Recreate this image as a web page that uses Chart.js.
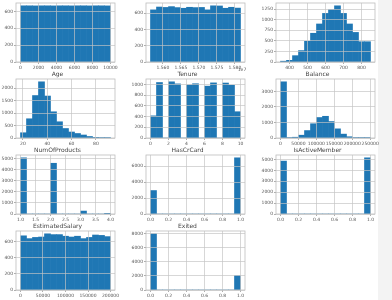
<!DOCTYPE html>
<html>
<head>
<meta charset="utf-8">
<script src="https://cdn.jsdelivr.net/npm/chart.js@4.4.1/dist/chart.umd.min.js"></script>
<style>
  html, body { margin: 0; padding: 0; background: #fff; }
  body { width: 392px; height: 300px; position: relative; overflow: hidden; }
  canvas { position: absolute; }
  #strip { position: absolute; left: 378px; top: 0; width: 14px; height: 300px; background: #f3f3f3; }
</style>
</head>
<body>
<div id="strip"></div>
<script>
// Histogram grid (df.hist, 15 bins) - counts

const titles = ['RowNumber', 'CustomerId', 'CreditScore', 'Age', 'Tenure', 'Balance',
    'NumOfProducts', 'HasCrCard', 'IsActiveMember', 'EstimatedSalary', 'Exited'];

// data ranges (first and last bin edge)
const rowNumberRange = [1, 10000];
const customerIdRange = [15565701, 15815690];
const creditScoreRange = [350, 850];
const ageRange = [18, 92];
const tenureRange = [0, 10];
const balanceRange = [0, 250898];
const numProductsRange = [1, 4];
const unitRange = [0, 1];
const salaryRange = [12, 199992];

// bin counts
const rowNumberCounts = [667, 667, 666, 667, 667, 666, 667, 667, 666, 667, 667, 666, 667, 667, 666];
const customerIdCounts = [640, 675, 670, 680, 668, 660, 672, 668, 670, 640, 690, 688, 660, 672, 662];
const creditScoreCounts = [19, 40, 150, 270, 490, 680, 900, 1150, 1240, 1330, 1150, 900, 700, 480, 480];
const ageCounts = [210, 770, 1700, 2250, 1680, 1050, 650, 380, 240, 180, 120, 60, 25, 8, 3];
const tenureCounts = [413, 1035, 0, 1048, 1009, 0, 989, 1012, 0, 967, 1028, 0, 1025, 984, 490];
const balanceCounts = [3623, 10, 50, 180, 480, 920, 1320, 1400, 1060, 590, 250, 80, 20, 5, 1];
const numProductsCounts = [5084, 0, 0, 0, 0, 4590, 0, 0, 0, 0, 266, 0, 0, 0, 60];
const hasCrCardCounts = [2945, 0, 0, 0, 0, 0, 0, 0, 0, 0, 0, 0, 0, 0, 7055];
const isActiveCounts = [4849, 0, 0, 0, 0, 0, 0, 0, 0, 0, 0, 0, 0, 0, 5151];
const salaryCounts = [675, 640, 655, 660, 700, 690, 690, 670, 660, 670, 640, 655, 685, 680, 665];
const exitedCounts = [7963, 0, 0, 0, 0, 0, 0, 0, 0, 0, 0, 0, 0, 0, 2037];

// x ticks and labels
const rowNumberX = [0, 2000, 4000, 6000, 8000, 10000];
const customerIdX = [15600000, 15650000, 15700000, 15750000, 15800000];
const customerIdXLabels = ['1.560', '1.565', '1.570', '1.575', '1.580'];
const creditScoreX = [400, 500, 600, 700, 800];
const ageX = [20, 40, 60, 80];
const tenureX = [0, 2, 4, 6, 8, 10];
const balanceX = [0, 50000, 100000, 150000, 200000, 250000];
const numProductsX = [1, 1.5, 2, 2.5, 3, 3.5, 4];
const numProductsXLabels = ['1.0', '1.5', '2.0', '2.5', '3.0', '3.5', '4.0'];
const unitX = [0, 0.2, 0.4, 0.6, 0.8, 1];
const unitXLabels = ['0.0', '0.2', '0.4', '0.6', '0.8', '1.0'];
const salaryX = [0, 50000, 100000, 150000, 200000];

// y ticks
const rowNumberY = [0, 200, 400, 600];
const customerIdY = [0, 200, 400, 600];
const creditScoreY = [0, 250, 500, 750, 1000, 1250];
const ageY = [0, 500, 1000, 1500, 2000];
const tenureY = [0, 200, 400, 600, 800, 1000];
const balanceY = [0, 1000, 2000, 3000];
const numProductsY = [0, 1000, 2000, 3000, 4000, 5000];
const hasCrCardY = [0, 2000, 4000, 6000];
const isActiveY = [0, 1000, 2000, 3000, 4000, 5000];
const salaryY = [0, 200, 400, 600];
const exitedY = [0, 2000, 4000, 6000, 8000];

const panels = [
    { range: rowNumberRange, counts: rowNumberCounts, xTicks: rowNumberX, yTicks: rowNumberY },
    { range: customerIdRange, counts: customerIdCounts, xTicks: customerIdX, xLabels: customerIdXLabels, yTicks: customerIdY, offsetText: '1e7' },
    { range: creditScoreRange, counts: creditScoreCounts, xTicks: creditScoreX, yTicks: creditScoreY },
    { range: ageRange, counts: ageCounts, xTicks: ageX, yTicks: ageY },
    { range: tenureRange, counts: tenureCounts, xTicks: tenureX, yTicks: tenureY },
    { range: balanceRange, counts: balanceCounts, xTicks: balanceX, yTicks: balanceY },
    { range: numProductsRange, counts: numProductsCounts, xTicks: numProductsX, xLabels: numProductsXLabels, yTicks: numProductsY },
    { range: unitRange, counts: hasCrCardCounts, xTicks: unitX, xLabels: unitXLabels, yTicks: hasCrCardY },
    { range: unitRange, counts: isActiveCounts, xTicks: unitX, xLabels: unitXLabels, yTicks: isActiveY },
    { range: salaryRange, counts: salaryCounts, xTicks: salaryX, yTicks: salaryY },
    { range: unitRange, counts: exitedCounts, xTicks: unitX, xLabels: unitXLabels, yTicks: exitedY }
];

// layout of the grid (plot areas)
const PLOT_LEFT = [16, 146, 276];
const PLOT_TOP = [3, 79, 155, 231];
const PLOT_W = 99, PLOT_H = 59;
const Y_W = 16, TITLE_H = 9, X_H = 10, PAD_R = 12;

const FONT = 'DejaVu Sans';
const BAR = '#1f77b4';
const GRID = 'rgba(196,196,196,0.85)';
const SPINE = '#bdbdbd';
const TEXT = '#555';

const framePlugin = {
    id: 'frame',
    afterDraw(chart) {
        const { ctx, chartArea: a } = chart;
        ctx.save();
        ctx.strokeStyle = SPINE;
        ctx.lineWidth = 0.8;
        ctx.strokeRect(a.left, a.top, a.right - a.left, a.bottom - a.top);
        const off = chart.options.plugins.frame && chart.options.plugins.frame.offsetText;
        if (off) {
            ctx.fillStyle = TEXT;
            ctx.font = '4.5px "' + FONT + '"';
            ctx.textAlign = 'center';
            ctx.textBaseline = 'middle';
            ctx.fillText(off, a.right - 3, a.bottom + 8);
        }
        ctx.restore();
    }
};

panels.forEach((p, i) => {
    const col = i % 3, row = Math.floor(i / 3);
    const canvas = document.createElement('canvas');
    canvas.width = Y_W + PLOT_W + PAD_R;
    canvas.height = TITLE_H + PLOT_H + X_H;
    canvas.style.left = (PLOT_LEFT[col] - Y_W) + 'px';
    canvas.style.top = (PLOT_TOP[row] - TITLE_H) + 'px';
    document.body.appendChild(canvas);

    const [lo, hi] = p.range;
    const n = p.counts.length;
    const w = (hi - lo) / n;
    const points = p.counts.map((c, k) => ({ x: lo + w * (k + 0.5), y: c }));
    const span = hi - lo;
    const yMax = Math.max(...p.counts) * 1.05;
    const tickFont = { family: FONT, size: 4.5 };

    new Chart(canvas, {
        type: 'bar',
        data: {
            datasets: [{
                data: points,
                backgroundColor: BAR,
                borderWidth: 0,
                barPercentage: 1,
                categoryPercentage: 1
            }]
        },
        options: {
            responsive: false,
            animation: false,
            events: [],
            layout: { padding: { left: 0, right: PAD_R, top: 0, bottom: 0 } },
            plugins: {
                legend: { display: false },
                tooltip: { enabled: false },
                title: {
                    display: true,
                    text: titles[i],
                    color: '#444',
                    font: { family: FONT, size: 6, lineHeight: 1, weight: 'normal' },
                    padding: { top: 1, bottom: 2 }
                },
                frame: { offsetText: p.offsetText }
            },
            scales: {
                x: {
                    type: 'linear',
                    offset: false,
                    min: lo - span * 0.05,
                    max: hi + span * 0.05,
                    grid: { z: 1, color: GRID, lineWidth: 0.8, offset: false, tickLength: 2, tickColor: '#999' },
                    border: { display: false },
                    ticks: {
                        font: tickFont, color: TEXT, padding: 1,
                        maxRotation: 0, minRotation: 0, autoSkip: false,
                        callback: (v, k) => p.xLabels ? p.xLabels[k] : String(p.xTicks[k])
                    },
                    afterBuildTicks: s => { s.ticks = p.xTicks.map(v => ({ value: v })); },
                    afterFit: s => { s.height = X_H; }
                },
                y: {
                    min: 0,
                    max: yMax,
                    grid: { z: 1, color: GRID, lineWidth: 0.8, tickLength: 2, tickColor: '#999' },
                    border: { display: false },
                    ticks: {
                        font: tickFont, color: TEXT, padding: 1, autoSkip: false,
                        callback: (v, k) => String(p.yTicks[k])
                    },
                    afterBuildTicks: s => { s.ticks = p.yTicks.map(v => ({ value: v })); },
                    afterFit: s => { s.width = Y_W; }
                }
            }
        },
        plugins: [framePlugin]
    });
});
</script>
</body>
</html>
